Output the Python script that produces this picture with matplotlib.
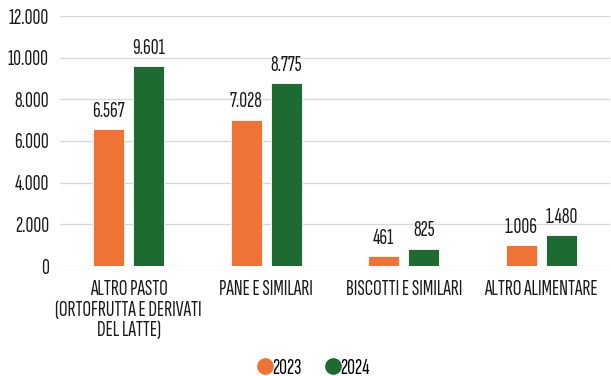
import matplotlib
matplotlib.use("Agg")
import matplotlib.pyplot as plt
from matplotlib.lines import Line2D
import numpy as np

categories = ["ALTRO PASTO\n(ORTOFRUTTA E DERIVATI\nDEL LATTE)", "PANE E SIMILARI",
              "BISCOTTI E SIMILARI", "ALTRO ALIMENTARE"]
values_2023 = [6567, 7028, 461, 1006]
values_2024 = [9601, 8775, 825, 1480]
labels_2023 = ["6.567", "7.028", "461", "1.006"]
labels_2024 = ["9.601", "8.775", "825", "1.480"]
yticks = [0, 2000, 4000, 6000, 8000, 10000, 12000]
ytick_labels = ["0", "2.000", "4.000", "6.000", "8.000", "10.000", "12.000"]

plt.rcParams['font.family'] = ['Sofia Sans Extra Condensed', 'DejaVu Sans']

orange = "#EE7335"
green = "#1E6B32"
ink = "#1a1a1a"
fs = 15.5

fig = plt.figure(figsize=(6.11, 3.76), dpi=100)
ax = fig.add_axes([60 / 611, 1 - 266 / 376, 550 / 611, 250 / 376])

x = np.arange(len(categories))
w = 0.225
off = 0.145
ax.bar(x - off, values_2023, w, color=orange, edgecolor="white", linewidth=0.6, zorder=3)
ax.bar(x + off, values_2024, w, color=green, edgecolor="white", linewidth=0.6, zorder=3)

for xi, v, t in zip(x - off, values_2023, labels_2023):
    ax.text(xi, v + 400, t, ha="center", va="bottom", fontsize=fs, color=ink)
for xi, v, t in zip(x + off, values_2024, labels_2024):
    ax.text(xi, v + 400, t, ha="center", va="bottom", fontsize=fs, color=ink)

ax.set_xlim(-0.5, len(categories) - 0.5)
ax.set_ylim(0, 12000)
ax.set_yticks(yticks)
ax.set_yticklabels(ytick_labels, fontsize=fs, color=ink)
ax.set_xticks(x)
ax.set_xticklabels(categories, fontsize=fs, color=ink, linespacing=1.1)
ax.tick_params(axis="x", length=0, pad=10)
ax.tick_params(axis="y", length=0, pad=8)
ax.grid(axis="y", color="#d9d9d9", linewidth=1, zorder=0)
for s in ax.spines.values():
    s.set_visible(False)

handles = [Line2D([], [], marker="o", linestyle="", markersize=11, color=orange),
           Line2D([], [], marker="o", linestyle="", markersize=11, color=green)]
fig.legend(handles, ["2023", "2024"], loc="center", bbox_to_anchor=(312 / 611, 1 - 368 / 376),
           ncol=2, frameon=False, fontsize=fs, handletextpad=-0.2, columnspacing=1.0,
           handlelength=1.0)

fig.savefig("out.png", dpi=100)
